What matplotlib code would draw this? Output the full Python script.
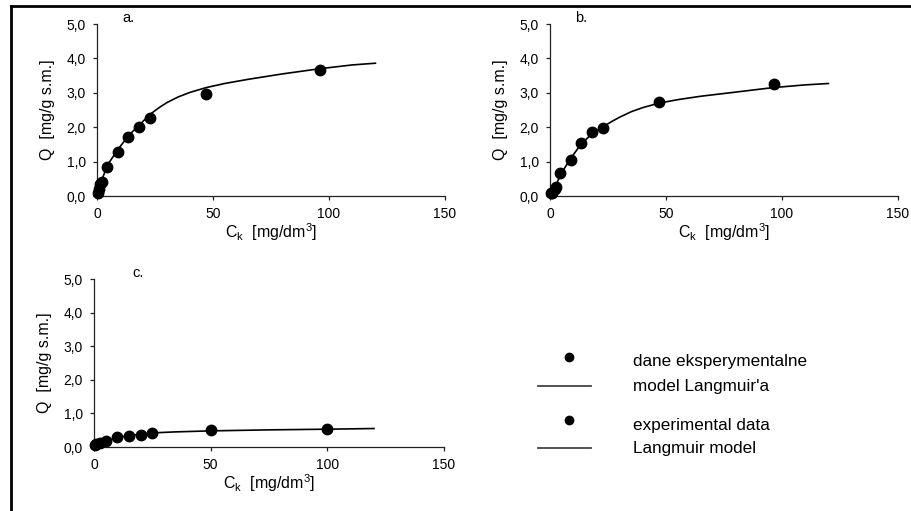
import matplotlib
matplotlib.use("Agg")
import matplotlib.pyplot as plt
from matplotlib.lines import Line2D

plt.rcParams['font.family'] = ['Liberation Sans', 'DejaVu Sans']
plt.rcParams['mathtext.fontset'] = 'custom'
plt.rcParams['mathtext.rm'] = 'Liberation Sans'

# experimental data (C_k, Q) for the three panels
a_ck = [0.5, 1.0, 1.5, 2.0, 4.5, 9.0, 13.5, 18.0, 23.0, 47.0, 96.0]
a_q = [0.10, 0.20, 0.35, 0.42, 0.85, 1.28, 1.72, 2.00, 2.27, 2.97, 3.65]
b_ck = [0.5, 1.0, 2.0, 2.5, 4.5, 9.0, 13.5, 18.0, 23.0, 47.0, 96.5]
b_q = [0.10, 0.10, 0.20, 0.25, 0.67, 1.05, 1.53, 1.87, 1.98, 2.73, 3.25]
c_ck = [0.5, 1.0, 2.5, 5.0, 10.0, 15.0, 20.0, 25.0, 50.0, 100.0]
c_q = [0.05, 0.08, 0.12, 0.17, 0.30, 0.33, 0.35, 0.42, 0.50, 0.55]

# Langmuir model curves
a_fit_x = [0, 2, 4.5, 9, 13.5, 18, 23, 27, 30, 35, 40, 47, 55, 65, 80, 96, 110, 120]
a_fit_y = [0.0, 0.45, 0.90, 1.35, 1.75, 2.05, 2.38, 2.58, 2.71, 2.88, 3.01, 3.15, 3.27, 3.39, 3.55, 3.70, 3.81, 3.86]
b_fit_x = [0, 2.5, 4.5, 9, 13.5, 18, 23, 27, 30, 35, 40, 47, 55, 65, 80, 96, 110, 120]
b_fit_y = [0.0, 0.30, 0.62, 1.10, 1.52, 1.80, 2.02, 2.18, 2.29, 2.45, 2.57, 2.70, 2.80, 2.90, 3.02, 3.15, 3.23, 3.27]
c_fit_x = [0, 2.5, 5, 10, 15, 20, 25, 35, 50, 75, 100, 120]
c_fit_y = [0.0, 0.12, 0.18, 0.28, 0.34, 0.38, 0.42, 0.45, 0.48, 0.51, 0.53, 0.55]

yticks = [0, 1, 2, 3, 4, 5]
ytick_labels = ["0,0", "1,0", "2,0", "3,0", "4,0", "5,0"]
xticks = [0, 50, 100, 150]

W, H = 912, 511
fig = plt.figure(figsize=(W / 100, H / 100), dpi=100)


def panel(left, top, right, bottom, ck, q, fx, fy, letter, lx):
    ax = fig.add_axes([left / W, 1 - bottom / H, (right - left) / W, (bottom - top) / H])
    ax.plot(fx, fy, color="black", lw=1.2, zorder=2)
    ax.plot(ck, q, "o", color="black", ms=7.5, zorder=3, clip_on=False)
    ax.set_xlim(0, 150)
    ax.set_ylim(0, 5)
    ax.set_xticks(xticks)
    ax.set_yticks(yticks)
    ax.set_yticklabels(ytick_labels)
    for s in ["top", "right"]:
        ax.spines[s].set_visible(False)
    for s in ["left", "bottom"]:
        ax.spines[s].set_linewidth(0.9)
        ax.spines[s].set_color("#222222")
    ax.tick_params(labelsize=10, length=3, width=0.9, color="#222222", pad=5)
    ax.set_xlabel(r"C$_\mathregular{k}$  [mg/dm$^\mathregular{3}$]", fontsize=11.5, labelpad=0)
    ax.set_ylabel("Q  [mg/g s.m.]", fontsize=11.5, labelpad=8)
    ax.text(lx, 5.05, letter, fontsize=10.5)
    ax.set_facecolor("none")
    return ax


panel(97, 24, 445, 196, a_ck, a_q, a_fit_x, a_fit_y, "a.", 11)
panel(550, 24, 898, 196, b_ck, b_q, b_fit_x, b_fit_y, "b.", 11)
panel(94, 279, 444, 447, c_ck, c_q, c_fit_x, c_fit_y, "c.", 16.5)

# legend
def px(x, y):
    return x / W, 1 - y / H

for my, ty, ly, t1, t2 in [(357, 361, 386, "dane eksperymentalne", "model Langmuir'a"),
                           (420, 425, 448, "experimental data", "Langmuir model")]:
    fig.add_artist(Line2D([px(569, 0)[0]], [px(0, my)[1]], marker="o", color="black", ms=6, ls="none"))
    fig.add_artist(Line2D([px(538, 0)[0], px(591, 0)[0]], [px(0, ly)[1]] * 2, color="#444444", lw=1.3))
    fig.text(*px(633, ty), t1, fontsize=12.3, va="center")
    fig.text(*px(633, ly), t2, fontsize=12.3, va="center")

# frame lines at left and top
fig.add_artist(Line2D([px(11, 0)[0], px(11, 0)[0]], [px(0, 6)[1], 0], color="black", lw=2))
fig.add_artist(Line2D([px(11, 0)[0], 1], [px(0, 6)[1], px(0, 6)[1]], color="black", lw=2))

fig.savefig("out.png", dpi=100)
